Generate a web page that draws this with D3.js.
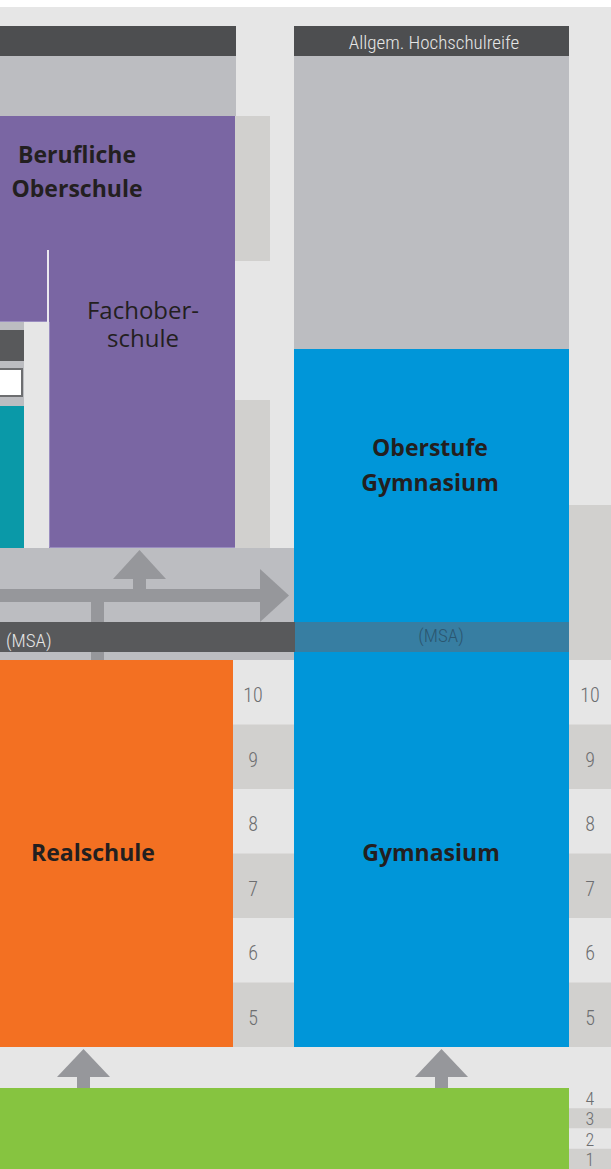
<!DOCTYPE html>
<html>
<head>
<meta charset="utf-8">
<script src="https://cdn.jsdelivr.net/npm/d3@7"></script>
<style>
	body { margin: 0; background: #fff; }
	svg { display: block; }
</style>
</head>
<body>
<div id="chart"></div>
<script>
// --- data ---
var secondaryGrades = [10, 9, 8, 7, 6, 5];
var primaryGrades = [4, 3, 2, 1];
var topCertificate = "Allgem. Hochschulreife";
var midCertificate = "(MSA)";
var berufLabel = ["Berufliche", "Oberschule"];
var fosLabel = ["Fachober-", "schule"];
var oberstufeLabel = ["Oberstufe", "Gymnasium"];
var realLabel = ["Realschule"];
var gymLabel = ["Gymnasium"];

(function draw() {
	'use strict';

	var width = 611, height = 1169;

	var C = {
		bg: "#e6e6e6",
		dark: "#4d4e50",
		msa: "#58595b",
		gray: "#bcbdc1",
		box: "#d1d0ce",
		purple: "#7a66a3",
		teal: "#0a99a8",
		orange: "#f37022",
		blue: "#0096d9",
		msaBlue: "#377ea2",
		green: "#86c440",
		arrow: "#96979b",
		num: "#6d6e70",
		label: "#231f20"
	};

	var condensed = "'Liberation Sans Narrow', 'Roboto Condensed', Roboto, sans-serif";
	var humanist = "'Open Sans', 'Noto Sans', sans-serif";

	var svg = d3.select("#chart").append("svg")
		.attr("width", width)
		.attr("height", height);

	// column edges
	var col = {
		gradeL0: 233, gradeL1: 294,
		gym0: 294, gym1: 569, gradeR1: 611
	};

	// vertical scales: secondary grades and primary grades
	var ySec = d3.scaleBand().domain(secondaryGrades).range([660, 1047]);
	var yPri = d3.scaleBand().domain(primaryGrades).range([1088, 1169]);

	function rect(x0, y0, x1, y1, fill) {
		return svg.append("rect")
			.attr("x", x0).attr("y", y0)
			.attr("width", x1 - x0).attr("height", y1 - y0)
			.attr("fill", fill);
	}

	function poly(points, fill) {
		return svg.append("polygon")
			.attr("points", points.map(function(p) { return p.join(","); }).join(" "))
			.attr("fill", fill);
	}

	function label(lines, cx, y0, lh, size, weight, fill, family) {
		var t = svg.append("text")
			.attr("text-anchor", "middle")
			.attr("font-family", family || humanist)
			.attr("font-size", size + "px")
			.attr("font-weight", weight)
			.attr("fill", fill);
		t.selectAll("tspan").data(lines).enter().append("tspan")
			.attr("x", cx)
			.attr("y", function(d, i) { return y0 + i * lh; })
			.text(function(d) { return d; });
		return t;
	}

	// background
	rect(0, 0, width, height, "#fff");
	rect(0, 7, width, height, C.bg);

	// --- upper left: vocational track ---
	rect(0, 26, 236, 56, C.dark);
	rect(0, 56, 236, 116, C.gray);
	rect(235, 116, 270, 261, C.box);
	rect(235, 400, 270, 548, C.box);

	rect(0, 116, 235, 250, C.purple);
	rect(0, 250, 47, 322, C.purple);
	rect(49, 250, 235, 548, C.purple);
	svg.append("line")
		.attr("x1", 48).attr("x2", 48).attr("y1", 250).attr("y2", 322)
		.attr("stroke", "#ece9f2").attr("stroke-width", 1.5);
	svg.append("path")
		.attr("d", "M49.5,322V547.5H235")
		.attr("fill", "none")
		.attr("stroke", "#9a8dc0").attr("stroke-width", 1);
	svg.append("path")
		.attr("d", "M0,321.5H47")
		.attr("fill", "none")
		.attr("stroke", "#9a8dc0").attr("stroke-width", 1);

	rect(0, 322, 24, 406, C.gray);
	rect(0, 330, 24, 361, C.msa);
	rect(-2, 369, 22, 396, "#fff")
		.attr("stroke", "#6d6e70").attr("stroke-width", 2);
	rect(0, 406, 24, 548, C.teal);

	// --- right column: Gymnasium ---
	rect(col.gym0, 26, col.gym1, 56, C.dark);
	rect(col.gym0, 56, col.gym1, 349, C.gray);
	rect(col.gym0, 349, col.gym1, 1047, C.blue);
	rect(col.gym1, 505, col.gradeR1, 661, C.box);

	// --- transition band with arrows ---
	rect(0, 548, col.gym0, 660, C.gray);

	var arrowShaft = 13;
	// vertical shaft from Realschule
	rect(91, 595, 91 + arrowShaft, 660, C.arrow);
	// horizontal arrow
	rect(0, 589, 261, 602, C.arrow);
	poly([[260, 569], [289, 595.5], [260, 622]], C.arrow);
	// arrow up into Fachoberschule
	rect(133, 578, 133 + arrowShaft, 590, C.arrow);
	poly([[113, 579], [139.5, 550], [166, 579]], C.arrow);

	// MSA bar
	rect(0, 622, col.gym0 + 1, 652, C.msa);
	rect(col.gym0 + 1, 622, col.gym1, 652, C.msaBlue);
	svg.append("text")
		.attr("x", 6).attr("y", 647)
		.attr("font-family", condensed).attr("font-size", "19px")
		.attr("font-weight", 300)
		.attr("fill", "#e6e6e6")
		.text(midCertificate);
	svg.append("text")
		.attr("x", 441).attr("y", 642)
		.attr("text-anchor", "middle")
		.attr("font-family", condensed).attr("font-size", "19px")
		.attr("font-weight", 300)
		.attr("fill", "#2b5670")
		.text(midCertificate);

	// --- Realschule ---
	rect(0, 660, col.gradeL0, 1047, C.orange);

	// grade columns
	function gradeColumn(scale, grades, x0, x1, tx, size, dy) {
		var g = svg.append("g");
		g.selectAll("rect").data(grades).enter().append("rect")
			.attr("x", x0).attr("width", x1 - x0)
			.attr("y", function(d) { return scale(d); })
			.attr("height", scale.bandwidth())
			.attr("fill", function(d, i) { return i % 2 ? C.box : C.bg; });
		g.selectAll("text").data(grades).enter().append("text")
			.attr("x", tx)
			.attr("y", function(d) { return scale(d) + scale.bandwidth() / 2 + dy; })
			.attr("text-anchor", "middle")
			.attr("font-family", condensed)
			.attr("font-size", size + "px")
			.attr("font-weight", 300)
			.attr("fill", C.num)
			.text(function(d) { return d; });
	}
	gradeColumn(ySec, secondaryGrades, col.gradeL0, col.gradeL1, 253, 20, 10);
	gradeColumn(ySec, secondaryGrades, col.gym1, col.gradeR1, 590, 20, 10);
	gradeColumn(yPri, primaryGrades, col.gym1, col.gradeR1, 590, 18, 7);

	// --- primary school + arrows ---
	rect(0, 1088, col.gym1, 1169, C.green);
	[83.5, 441.5].forEach(function(cx) {
		rect(cx - 6.5, 1076, cx + 6.5, 1088, C.arrow);
		poly([[cx - 26.5, 1077], [cx, 1049], [cx + 26.5, 1077]], C.arrow);
	});

	// --- labels ---
	svg.append("text")
		.attr("x", 434).attr("y", 49)
		.attr("text-anchor", "middle")
		.attr("font-family", condensed).attr("font-size", "19px")
		.attr("font-weight", 300)
		.attr("fill", "#e6e6e6")
		.text(topCertificate);

	label(berufLabel, 77, 163, 34, 23, 700, C.label);
	label(fosLabel, 143, 319, 28, 24, 400, C.label);
	label(oberstufeLabel, 430, 456, 35, 23, 700, C.label);
	label(realLabel, 93, 861, 0, 23, 700, C.label);
	label(gymLabel, 431, 861, 0, 23, 700, C.label);
})();
</script>
</body>
</html>
